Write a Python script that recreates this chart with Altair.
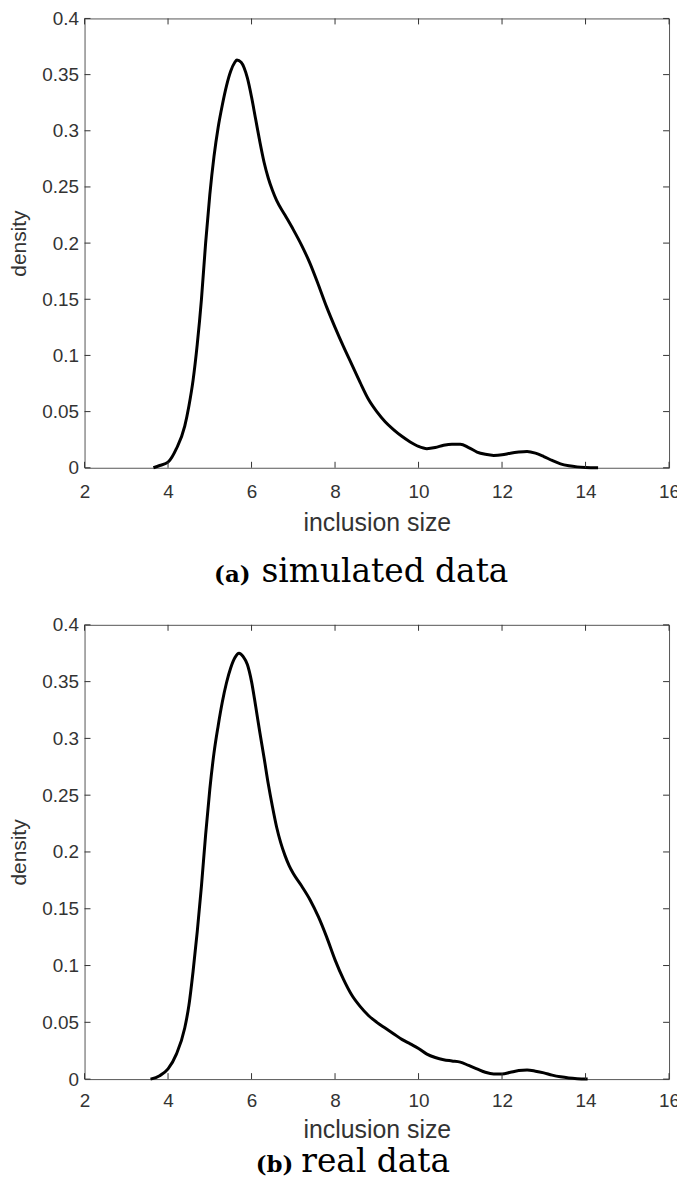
import altair as alt
import pandas as pd

# ---- data ----
sim_x = [3.65, 3.8, 4.0, 4.2, 4.4, 4.5, 4.6, 4.7, 4.8, 4.9,
         5.0, 5.1, 5.2, 5.3, 5.4, 5.5, 5.6, 5.65, 5.75, 5.9,
         6.0, 6.1, 6.2, 6.3, 6.4, 6.5, 6.6, 6.8, 7.0, 7.2,
         7.4, 7.6, 7.8, 8.0, 8.2, 8.4, 8.6, 8.8, 9.0, 9.2,
         9.4, 9.6, 9.8, 10.0, 10.2, 10.4, 10.6, 10.8, 11.0, 11.2,
         11.4, 11.6, 11.8, 12.0, 12.2, 12.4, 12.6, 12.8, 13.0, 13.2,
         13.4, 13.6, 13.8, 14.0, 14.3]
sim_y = [0.0, 0.002, 0.005, 0.017, 0.037, 0.055, 0.078, 0.11, 0.15, 0.2,
         0.243, 0.277, 0.303, 0.323, 0.34, 0.353, 0.361, 0.363, 0.361, 0.347,
         0.33, 0.31, 0.29, 0.272, 0.258, 0.247, 0.238, 0.225, 0.212, 0.198,
         0.182, 0.163, 0.143, 0.125, 0.108, 0.092, 0.076, 0.061, 0.05, 0.041,
         0.034, 0.028, 0.023, 0.019, 0.017, 0.018, 0.02, 0.021, 0.021, 0.018,
         0.014, 0.012, 0.011, 0.0115, 0.013, 0.014, 0.0145, 0.013, 0.01, 0.0065,
         0.0035, 0.0018, 0.0008, 0.0003, 0.0]

real_x = [3.58, 3.8, 4.0, 4.2, 4.4, 4.5, 4.6, 4.7, 4.8, 4.9,
          5.0, 5.1, 5.2, 5.3, 5.4, 5.5, 5.6, 5.7, 5.8, 5.9,
          6.0, 6.1, 6.2, 6.3, 6.4, 6.5, 6.6, 6.7, 6.8, 6.9,
          7.0, 7.2, 7.4, 7.6, 7.8, 8.0, 8.2, 8.4, 8.6, 8.8,
          9.0, 9.2, 9.4, 9.6, 9.8, 10.0, 10.2, 10.4, 10.6, 10.8,
          11.0, 11.2, 11.4, 11.6, 11.8, 12.0, 12.2, 12.4, 12.6, 12.8,
          13.0, 13.2, 13.4, 13.6, 13.8, 14.05]
real_y = [0.0, 0.003, 0.009, 0.022, 0.045, 0.065, 0.095, 0.13, 0.17, 0.215,
          0.255, 0.287, 0.311, 0.332, 0.349, 0.362, 0.371, 0.375, 0.372, 0.365,
          0.35, 0.328, 0.305, 0.283, 0.26, 0.24, 0.222, 0.208, 0.197, 0.188,
          0.181, 0.17, 0.158, 0.143, 0.125, 0.105, 0.088, 0.074, 0.064, 0.056,
          0.05, 0.045, 0.04, 0.035, 0.031, 0.027, 0.022, 0.019, 0.017, 0.016,
          0.015, 0.012, 0.009, 0.006, 0.0045, 0.0045, 0.006, 0.0075, 0.008, 0.007,
          0.0055, 0.0035, 0.002, 0.001, 0.0004, 0.0]

x_ticks = [2, 4, 6, 8, 10, 12, 14, 16]
y_ticks = [0, 0.05, 0.1, 0.15, 0.2, 0.25, 0.3, 0.35, 0.4]
x_title = "inclusion size"
y_title = "density"
letters = ["(a)", "(b)"]
captions = ["simulated data", "real data"]

W = 588
TICK = 6
SANS = "Liberation Sans"
SERIF = "DejaVu Serif"
TXT = "#333333"


def panel(xs, ys, H, lab_pad, title_pad, letter, caption, cap_y, let_x, cap_x):
    df = pd.DataFrame({"size": xs, "density": ys})
    xsc = alt.Scale(domain=[2, 16], nice=False, zero=False)
    ysc = alt.Scale(domain=[0, 0.4], nice=False)

    main = alt.Chart(df).mark_line(color="black", strokeWidth=3, interpolate="monotone").encode(
        x=alt.X("size:Q", scale=xsc,
                axis=alt.Axis(orient="bottom", values=x_ticks, format="d", ticks=False,
                              domain=False, grid=False, labelFlush=False,
                              labelPadding=lab_pad, labelFontSize=19,
                              labelFont=SANS, labelColor=TXT, title=x_title, titleFont=SANS,
                              titleFontSize=25, titleFontWeight="normal", titleColor=TXT,
                              titlePadding=title_pad)),
        y=alt.Y("density:Q", scale=ysc,
                axis=alt.Axis(orient="left", values=y_ticks, format=".2~f", ticks=False,
                              domain=False, grid=False, labelFlush=False,
                              labelPadding=6, labelFontSize=19,
                              labelFont=SANS, labelColor=TXT, title=y_title, titleFont=SANS,
                              titleFontSize=21, titleFontWeight="normal", titleColor=TXT,
                              titlePadding=12)),
    )

    xt = pd.DataFrame({"v": x_ticks})
    yt = pd.DataFrame({"v": y_ticks})
    tick_style = dict(color="#333333", strokeWidth=1)
    tb = alt.Chart(xt).mark_rule(**tick_style).encode(
        x=alt.X("v:Q", scale=xsc, axis=None), y=alt.value(H), y2=alt.value(H - TICK))
    tt = alt.Chart(xt).mark_rule(**tick_style).encode(
        x=alt.X("v:Q", scale=xsc, axis=None), y=alt.value(0), y2=alt.value(TICK))
    tl = alt.Chart(yt).mark_rule(**tick_style).encode(
        y=alt.Y("v:Q", scale=ysc, axis=None), x=alt.value(0), x2=alt.value(TICK))
    tr = alt.Chart(yt).mark_rule(**tick_style).encode(
        y=alt.Y("v:Q", scale=ysc, axis=None), x=alt.value(W), x2=alt.value(W - TICK))

    lab = pd.DataFrame({"t": [letter]})
    cap = pd.DataFrame({"t": [caption]})
    c1 = alt.Chart(lab).mark_text(font=SERIF, fontWeight="bold", fontSize=23, align="right",
                                  baseline="alphabetic", color="black").encode(
        x=alt.value(let_x), y=alt.value(cap_y), text="t:N")
    c2 = alt.Chart(cap).mark_text(font=SERIF, fontSize=33, align="left",
                                  baseline="alphabetic", color="black").encode(
        x=alt.value(cap_x), y=alt.value(cap_y), text="t:N")
    return alt.layer(main, tb, tt, tl, tr, c1, c2).resolve_axis(
        x="independent", y="independent").properties(width=W, height=H)


H_TOP = 452
H_BOT = 457
top = panel(sim_x, sim_y, H_TOP, 15, 9, letters[0], captions[0], H_TOP + 115, 167, 178)
bottom = panel(real_x, real_y, H_BOT, 13, 7, letters[1], captions[1], H_BOT + 93, 210, 218)

chart = alt.vconcat(top, bottom, spacing=25).configure_view(
    stroke="#555555", strokeWidth=1
).properties(padding={"left": 0, "top": -3, "right": -4, "bottom": 0})

chart.save("out.html", embed_options={"renderer": "svg", "actions": False})
